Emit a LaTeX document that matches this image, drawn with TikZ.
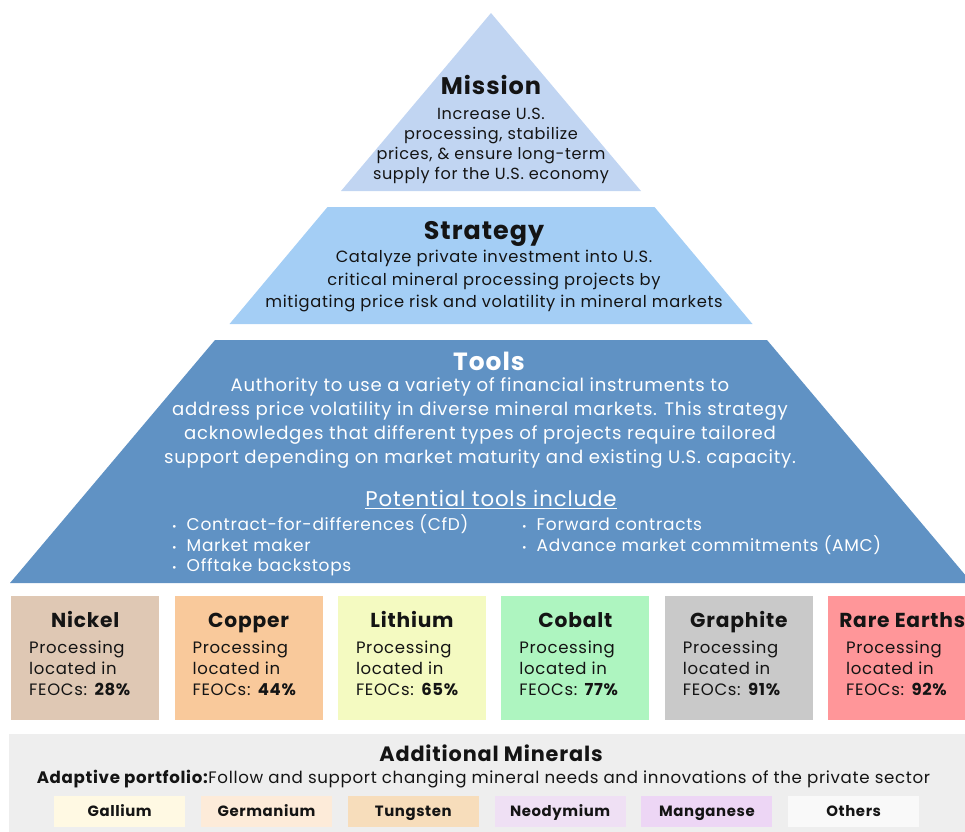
\documentclass[tikz,border=0pt]{standalone}
\usepackage{fontspec}
\setmainfont[LetterSpace=4]{Poppins}
\definecolor{ink}{HTML}{141414}
\definecolor{missionc}{HTML}{C1D5F2}
\definecolor{stratc}{HTML}{A4CEF5}
\definecolor{toolc}{HTML}{6092C4}
\definecolor{panelc}{HTML}{EEEEEE}
\definecolor{nickelc}{HTML}{DFC8B4}
\definecolor{copperc}{HTML}{F9C99B}
\definecolor{lithiumc}{HTML}{F4FAC1}
\definecolor{cobaltc}{HTML}{AEF5C0}
\definecolor{graphitec}{HTML}{C9C9C9}
\definecolor{rarec}{HTML}{FF9699}
\definecolor{galliumc}{HTML}{FFF9E3}
\definecolor{germaniumc}{HTML}{FDEBD9}
\definecolor{tungstenc}{HTML}{F7DDBB}
\definecolor{neodymiumc}{HTML}{EFE0F4}
\definecolor{manganesec}{HTML}{EDD6F5}
\definecolor{othersc}{HTML}{F9F9F9}
\begin{document}
\begin{tikzpicture}[x=1pt,y=-1pt,
  txt/.style={inner sep=0pt, text=ink, align=center},
  one/.style={text height=.75em, text depth=.25em},
  ttl/.style={txt, one},
  wtxt/.style={inner sep=0pt, text=white, align=center},
  mbox/.style={inner sep=0pt, minimum width=148pt, minimum height=124pt, anchor=north west},
  mtitle/.style={txt, one, font=\fontsize{20.2}{23}\selectfont\bfseries},
  mbody/.style={inner sep=0pt, text=ink, align=left, anchor=north west, font=\fontsize{16.5}{21}\selectfont},
  sbox/.style={inner sep=0pt, one, minimum width=131pt, minimum height=31pt, anchor=north west, text=ink, font=\fontsize{14.9}{16}\selectfont\bfseries},
  bullet/.style={wtxt, one, anchor=west, font=\fontsize{17}{19}\selectfont}
]
\clip (0,0) rectangle (965,831);
% pyramid
\fill[missionc] (491,13) -- (641,191) -- (341,191) -- cycle;
\fill[stratc] (327.5,207) -- (654.5,207) -- (752.5,324) -- (229.5,324) -- cycle;
\fill[toolc] (215,340) -- (767,340) -- (972,583) -- (10,583) -- cycle;

\node[ttl, font=\fontsize{24}{26}\selectfont\bfseries] (mt) at (491,92) {Mission};
\node[txt, font=\fontsize{16.1}{20}\selectfont] (mb) at (491,146) {Increase U.S.\\processing, stabilize\\prices, \& ensure long-term\\supply for the U.S. economy};

\node[ttl, font=\fontsize{25.4}{28}\selectfont\bfseries] (st) at (484,237) {Strategy};
\node[txt, font=\fontsize{16.3}{22.5}\selectfont] (sb) at (494,281) {Catalyze private investment into U.S.\\critical mineral processing projects by\\mitigating price risk and volatility in mineral markets};

\node[ttl, text=white, font=\fontsize{24.9}{28}\selectfont\bfseries] (tt) at (489,368) {Tools};
\node[wtxt, font=\fontsize{18.1}{24}\selectfont] (tb) at (480,423) {Authority to use a variety of financial instruments to\\address price volatility in diverse mineral markets. This strategy\\acknowledges that different types of projects require tailored\\support depending on market maturity and existing U.S. capacity.};
\node[wtxt, one, font=\fontsize{21.3}{24}\selectfont] (pt) at (491,504) {\underline{Potential tools include}};

\node[bullet] (b1) at (172,528) {\fontsize{11}{11}\selectfont•\hspace{10pt}\fontsize{17}{19}\selectfont Contract-for-differences (CfD)};
\node[bullet] (b2) at (172,549) {\fontsize{11}{11}\selectfont•\hspace{10pt}\fontsize{17}{19}\selectfont Market maker};
\node[bullet] (b3) at (172,569) {\fontsize{11}{11}\selectfont•\hspace{10pt}\fontsize{17}{19}\selectfont Offtake backstops};
\node[bullet] (b4) at (522,528) {\fontsize{11}{11}\selectfont•\hspace{10pt}\fontsize{17}{19}\selectfont Forward contracts};
\node[bullet] (b5) at (522,549) {\fontsize{11}{11}\selectfont•\hspace{10pt}\fontsize{17}{19}\selectfont Advance market commitments (AMC)};

% mineral boxes
\foreach \i/\nm/\col/\pc in {0/Nickel/nickelc/28, 1/Copper/copperc/44, 2/Lithium/lithiumc/65, 3/Cobalt/cobaltc/77, 4/Graphite/graphitec/91, 5/Rare Earths/rarec/92}{
  \node[mbox, fill=\col] (box\i) at ({11+163.4*\i},596) {};
  \node[mtitle] (boxt\i) at ([yshift=-29pt]box\i.north) {\nm};
  \node[mbody] (boxb\i) at ([xshift=18pt,yshift=-45pt]box\i.north west) {Processing\\located in\\FEOCs: \textbf{\pc\%}};
}

% additional minerals panel
\fill[panelc] (9,734) rectangle (975,840);
\node[txt, one, font=\fontsize{20.8}{23}\selectfont\bfseries] (at) at (491,759) {Additional Minerals};
\node[txt, one, font=\fontsize{16.65}{18}\selectfont] (as) at (483.5,781) {\textbf{Adaptive portfolio:}Follow and support changing mineral needs and innovations of the private sector};

\foreach \i/\nm/\col in {0/Gallium/galliumc, 1/Germanium/germaniumc, 2/Tungsten/tungstenc, 3/Neodymium/neodymiumc, 4/Manganese/manganesec, 5/Others/othersc}{
  \node[sbox, fill=\col] (sm\i) at ({54+146.8*\i},795.5) {};
  \node[txt, one, font=\fontsize{14.9}{16}\selectfont\bfseries] (sl\i) at ([yshift=-3pt]sm\i.center) {\nm};
}
\end{tikzpicture}
\end{document}
